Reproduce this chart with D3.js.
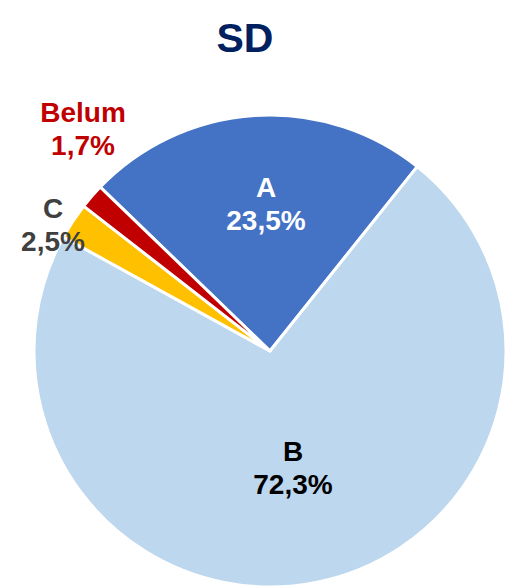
<!DOCTYPE html>
<html>
<head>
<meta charset="utf-8">
<script src="https://cdn.jsdelivr.net/npm/d3@7"></script>
<style>
  body { margin: 0; background: #fff; }
  svg { display: block; font-family: "Liberation Sans", Arial, sans-serif; font-weight: bold; }
</style>
</head>
<body>
<svg id="canvas"></svg>
<script>
let categories = ["A", "B", "C", "Belum"];
let values = [23.5, 72.3, 2.5, 1.7];
let labels = ["23,5%", "72,3%", "2,5%", "1,7%"];

let width = 508;
let height = 586;
let cx = 270, cy = 351, radius = 236;

let colors = ["#4472C4", "#BDD7EE", "#FFC000", "#C00000"];
let textColors = ["#ffffff", "#000000", "#404040", "#C00000"];
// label centre (x of text, baseline of first line)
let labelPos = [[266, 197], [293, 461], [53, 218], [83, 122]];

let canvas = d3.select("#canvas")
    .attr("width", width)
    .attr("height", height);

canvas.append("text")
    .attr("x", 245)
    .attr("y", 52)
    .attr("text-anchor", "middle")
    .attr("font-size", 41)
    .attr("fill", "#002060")
    .text("SD");

let start = -46 * Math.PI / 180;
let pie = d3.pie()
    .sort(null)
    .value((d) => d)
    .startAngle(start)
    .endAngle(start + 2 * Math.PI);

let arc = d3.arc().innerRadius(0).outerRadius(radius);

let g = canvas.append("g")
    .attr("transform", "translate(" + cx + "," + cy + ")");

g.selectAll("path")
    .data(pie(values))
    .enter()
    .append("path")
    .attr("d", arc)
    .attr("fill", (d, i) => colors[i])
    .attr("stroke", "#ffffff")
    .attr("stroke-width", 3)
    .attr("stroke-linejoin", "round");

let lbl = canvas.selectAll(".lbl")
    .data(categories)
    .enter()
    .append("text")
    .attr("class", "lbl")
    .attr("text-anchor", "middle")
    .attr("font-size", 28)
    .attr("fill", (d, i) => textColors[i]);

lbl.append("tspan")
    .attr("x", (d, i) => labelPos[i][0])
    .attr("y", (d, i) => labelPos[i][1])
    .text((d) => d);

lbl.append("tspan")
    .attr("x", (d, i) => labelPos[i][0])
    .attr("y", (d, i) => labelPos[i][1] + 33)
    .text((d, i) => labels[i]);
</script>
</body>
</html>
